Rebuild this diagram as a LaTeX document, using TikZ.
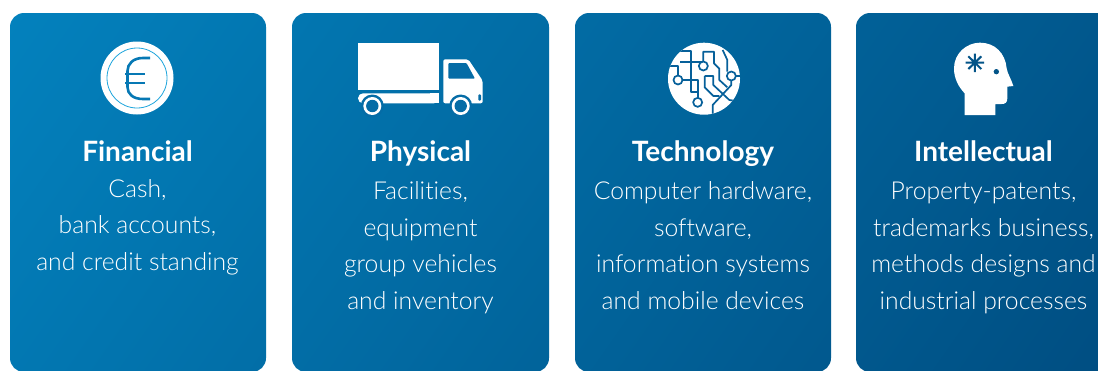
\documentclass[tikz,border=0pt]{standalone}
\usepackage{fontspec}
\setmainfont{Lato Light}[BoldFont=Lato Bold,Ligatures=NoCommon]
\definecolor{gradA}{RGB}{3,130,190}
\definecolor{gradB}{RGB}{0,78,130}
\definecolor{coinring}{RGB}{30,165,220}
\definecolor{euro}{RGB}{6,120,180}
\definecolor{truckbg}{RGB}{5,108,166}
\definecolor{techbg}{RGB}{6,96,154}
\definecolor{headbg}{RGB}{3,84,136}
\tikzset{
  x=1pt,y=-1pt,
  cardbox/.style={rounded corners=14pt},
  cardshade/.style={left color=gradA,right color=gradB,shading angle=55},
  cardtitle/.style={text=white,font=\bfseries\fontsize{28}{28}\selectfont,anchor=base},
  cardbody/.style={text=white,font=\fontsize{24.7}{36.5}\selectfont,align=center,anchor=base},
  trace/.style={draw=techbg,line width=1.7pt,line join=round},
  ringnode/.style={draw=techbg,fill=white,line width=1.7pt,circle,minimum size=9pt,inner sep=0pt},
}
\begin{document}
\begin{tikzpicture}
\useasboundingbox (0,0) rectangle (1098,370);
\begin{scope}
  \clip[cardbox] (10,13) rectangle (266,372);
  \shade[cardshade] (-11,-375) rectangle (1109,745);
\end{scope}
\begin{scope}
  \clip[cardbox] (292,13) rectangle (549,372);
  \shade[cardshade] (-11,-375) rectangle (1109,745);
\end{scope}
\begin{scope}
  \clip[cardbox] (575,13) rectangle (831,372);
  \shade[cardshade] (-11,-375) rectangle (1109,745);
\end{scope}
\begin{scope}
  \clip[cardbox] (856,13) rectangle (1130,372);
  \shade[cardshade] (-11,-375) rectangle (1109,745);
\end{scope}
% coin
\fill[white] (137,78) circle (36.5);
\draw[coinring,line width=0.8pt] (137,78) circle (30);
\draw[euro,line width=2.6pt] (150,58) -- (143,58) .. controls (133,58) and (127.5,64) .. (127.5,71) -- (127.5,87) .. controls (127.5,94) and (133,99) .. (143,99) -- (150,99);
\draw[euro,line width=2pt] (125,74) -- (145,74) (125,83) -- (145,83);
% truck
\fill[white] (358.3,42.7) rectangle (439,90.3);
\fill[white,rounded corners=5pt] (358,93.3) -- (439,93.3) -- (439,103.3) -- (358,103.3) -- cycle;
\fill[white] (430,93.3) rectangle (439,103.3);
\fill[white,rounded corners=2pt] (443.3,59.3) -- (468.3,59.3) -- (482.7,80.7) -- (482.7,103.3) -- (443.3,103.3) -- cycle;
\fill[truckbg,rounded corners=1pt] (448.3,63) -- (466.5,63) -- (475,78.7) -- (448.3,78.7) -- cycle;
\fill[truckbg,rounded corners=1pt] (478.3,94.3) rectangle (481,100.7);
\fill[truckbg] (372.3,106) circle (11.5) (460.7,106) circle (11.5);
\fill[white] (372.3,106) circle (9) (460.7,106) circle (9);
\fill[truckbg] (372.3,106) circle (6.2) (460.7,106) circle (6.2);
% technology
\fill[white] (704,78.7) circle (36);
\begin{scope}
  \clip (704,78.7) circle (36);
  \begin{scope}[shift={(650,30)},scale=1/3]
    \draw[trace] (50,108) -- (84,108) -- (84,150);
    \draw[trace] (75,62) -- (122,62) -- (122,185) -- (145,185);
    \draw[trace] (84,150) -- (145,150) -- (145,217);
    \draw[trace] (90,97) -- (160,97);
    \draw[trace] (160,108) -- (160,65) -- (192,65) -- (192,100) -- (208,116) -- (208,150) -- (232,172);
    \draw[trace] (244,138) -- (244,165) -- (188,225) -- (188,260);
    \draw[trace] (164,138) -- (190,138) -- (190,165) -- (238,210) -- (270,215);
    \draw[trace] (164,138) -- (164,172) -- (190,198) -- (208,198);
    \draw[trace] (218,60) -- (232,90) -- (232,125);
    \draw[trace] (244,138) -- (275,138);
    \node[ringnode] (n1) at (84,150) {};
    \node[ringnode] (n2) at (160,108) {};
    \node[ringnode] (n3) at (244,138) {};
    \node[ringnode] (n4) at (143,217) {};
  \end{scope}
\end{scope}
% head
\begin{scope}[shift={(930,30)},scale=1/3]
  \fill[white] (104,255) -- (104,190) .. controls (85,170) and (72,145) .. (72,115) .. controls (72,70) and (110,38) .. (150,38) .. controls (195,38) and (226,70) .. (230,115) .. controls (232,130) and (245,150) .. (250,168) -- (232,170) -- (232,205) .. controls (232,218) and (225,222) .. (215,222) -- (196,222) -- (196,255) -- cycle;
  \draw[headbg,line width=2pt] (107,98) -- (162,98) (134.5,71) -- (134.5,126) (115,79) -- (154,117) (154,79) -- (115,117);
  \fill[headbg] (199,125) circle (8);
\end{scope}
% text
\node[cardtitle] (t1) at (137.5,161) {Financial};
\node[cardtitle] (t2) at (420.5,161) {Physical};
\node[cardtitle] (t3) at (703,161) {Technology};
\node[cardtitle] (t4) at (983.5,161) {Intellectual};
\node[cardbody] (b1) at (137.5,270) {Cash,\\bank accounts,\\and credit standing};
\node[cardbody] (b2) at (420.5,309) {Facilities,\\equipment\\group vehicles\\and inventory};
\node[cardbody] (b3) at (703,309) {Computer hardware,\\software,\\information systems\\and mobile devices};
\node[cardbody] (b4) at (983.5,309) {Property-patents,\\trademarks business,\\methods designs and\\industrial processes};
\end{tikzpicture}
\end{document}
